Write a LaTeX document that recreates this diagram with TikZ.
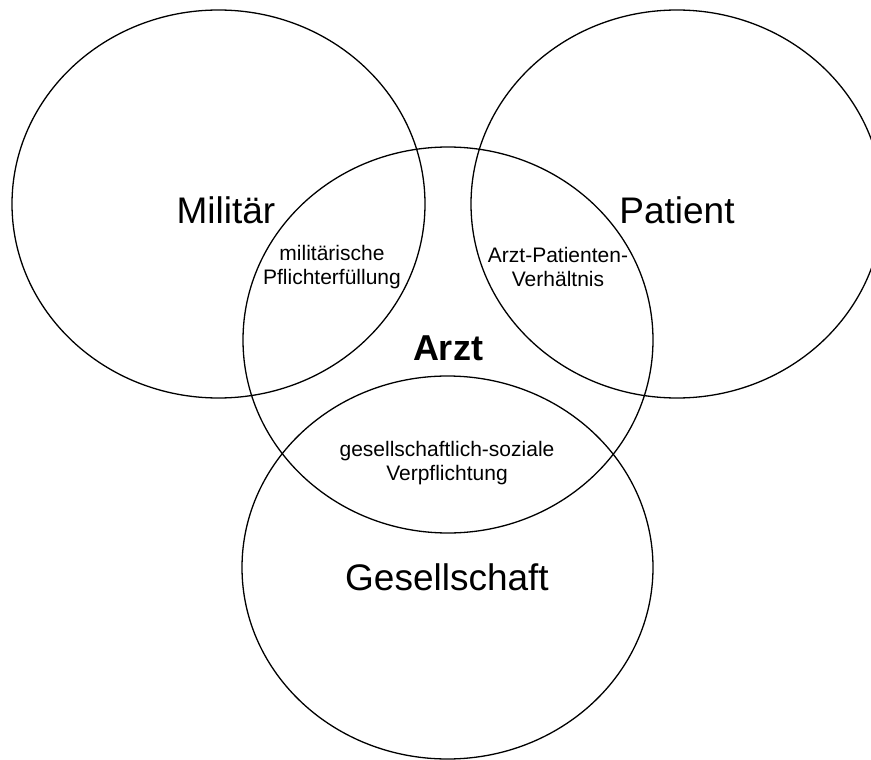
\documentclass[tikz,border=0pt]{standalone}
\usepackage{fontspec}
\setmainfont{Liberation Sans}
\usetikzlibrary{shapes.geometric}
\begin{document}
\begin{tikzpicture}[x=1pt,y=-1pt,
  field/.style={ellipse,draw=black,line width=1.3pt,inner sep=0pt,outer sep=0pt},
  biglabel/.style={font=\fontsize{37}{44}\selectfont,inner sep=0pt},
  smalllabel/.style={font=\fontsize{21}{24}\selectfont,align=center,inner sep=0pt},
  corelabel/.style={font=\fontsize{36}{42}\selectfont\bfseries,inner sep=0pt}]
  \useasboundingbox (0,0) rectangle (871,760);
  \clip (0,0) rectangle (871,760);
  \fill[white] (0,0) rectangle (871,760);

  % the four fields
  \node[field,minimum width=413pt,minimum height=388pt] (mil) at (218.5,204) {};
  \node[field,minimum width=412pt,minimum height=388pt] (pat) at (677,204) {};
  \node[field,minimum width=410pt,minimum height=386pt] (arzt) at (448,340) {};
  \node[field,minimum width=411pt,minimum height=383pt] (ges) at (447.5,567.5) {};

  % field names
  \node[biglabel] (tmil) at (226,210) {Militär};
  \node[biglabel] (tpat) at (677,210) {Patient};
  \node[biglabel] (tges) at (447,577) {Gesellschaft};
  \node[corelabel] (tarzt) at (448,348) {Arzt};

  % overlaps
  \node[smalllabel] (omil) at (332,267) {militärische\\Pflichterfüllung};
  \node[smalllabel] (opat) at (558,267) {Arzt-Patienten-\\Verhältnis};
  \node[smalllabel] (oges) at (447,463) {gesellschaftlich-soziale\\Verpflichtung};
\end{tikzpicture}
\end{document}
